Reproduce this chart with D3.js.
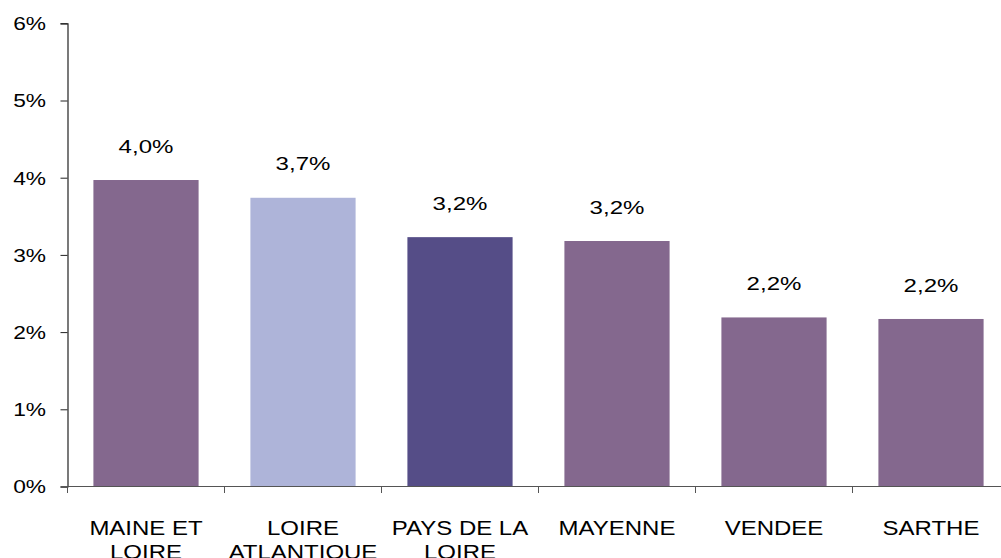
<!DOCTYPE html>
<html>
<head>
<meta charset="utf-8">
<script src="https://cdn.jsdelivr.net/npm/d3@7"></script>
<style>
  html, body { margin: 0; padding: 0; background: #fff; }
  svg { display: block; }
  text { font-family: "Liberation Sans", Arial, sans-serif; fill: #000; }
</style>
</head>
<body>
<svg id="chart" width="1001" height="558"></svg>
<script>
const categories = ["MAINE ET LOIRE", "LOIRE ATLANTIQUE", "PAYS DE LA LOIRE", "MAYENNE", "VENDEE", "SARTHE"];
const values = [0.0397, 0.0374, 0.0323, 0.0318, 0.0219, 0.0217];
const barColors = ["#84688e", "#aeb4d9", "#554d87", "#84688e", "#84688e", "#84688e"];
const yTicks = [0, 0.01, 0.02, 0.03, 0.04, 0.05, 0.06];

const svg = d3.select("#chart");
const x0 = 67.5, x1 = 1009.5, yBottom = 486.5, yTop = 23.3;

const x = d3.scaleBand().domain(categories).range([x0, x1]).paddingInner(0.33).paddingOuter(0.165);
const y = d3.scaleLinear().domain([0, 0.06]).range([yBottom, yTop]);

const fr = d3.formatLocale({decimal: ",", thousands: " ", grouping: [3], currency: ["", "€"]});
const fmtTick = fr.format(".0%");
const fmtLabel = fr.format(".1%");

// bars
svg.append("g").selectAll("rect").data(values).join("rect")
  .attr("x", (d, i) => x(categories[i]))
  .attr("width", x.bandwidth())
  .attr("y", d => y(d))
  .attr("height", d => y(0) - y(d))
  .attr("fill", (d, i) => barColors[i]);

// y axis
const sxTick = 1.3;
const yAxis = svg.append("g").attr("transform", `translate(${x0},0)`)
  .call(d3.axisLeft(y).tickValues(yTicks).tickFormat(fmtTick).tickSizeOuter(0).tickSize(7));
yAxis.select(".domain").attr("stroke", "#222").attr("stroke-width", 1.2);
yAxis.selectAll(".tick line").attr("stroke", "#222");
yAxis.selectAll(".tick text")
  .attr("font-size", "17.5px")
  .attr("font-family", "Liberation Sans, Arial, sans-serif")
  .attr("fill", "#000")
  .attr("x", -21.5 / sxTick)
  .attr("dy", "0.36em")
  .attr("transform", `scale(${sxTick},1)`);

// x axis
const bandStep = x.step();
const xTickPos = d3.range(categories.length + 1).map(i => x0 + i * bandStep);
const xAxisG = svg.append("g");
xAxisG.append("line")
  .attr("x1", x0).attr("x2", x1).attr("y1", yBottom).attr("y2", yBottom)
  .attr("stroke", "#555").attr("stroke-width", 1.2);
xAxisG.selectAll("line.tk").data(xTickPos).join("line").attr("class", "tk")
  .attr("x1", d => d).attr("x2", d => d)
  .attr("y1", yBottom).attr("y2", yBottom + 6.5)
  .attr("stroke", "#555");

// category labels with wrapping
const sxCat = 1.23, catSize = 19.5, maxW = 157;
const catG = svg.append("g");
categories.forEach((c, i) => {
  const cx = x(c) + x.bandwidth() / 2;
  const t = catG.append("text")
    .attr("font-size", catSize + "px")
    .attr("text-anchor", "middle")
    .attr("transform", `translate(${cx},534.5) scale(${sxCat},1)`);
  const words = c.split(" ");
  let lines = [], cur = [];
  const probe = t.append("tspan");
  words.forEach(w => {
    const test = cur.concat([w]).join(" ");
    probe.text(test);
    if (cur.length && probe.node().getComputedTextLength() * sxCat > maxW) {
      lines.push(cur.join(" "));
      cur = [w];
    } else {
      cur.push(w);
    }
  });
  lines.push(cur.join(" "));
  probe.remove();
  lines.forEach((ln, j) => {
    t.append("tspan").attr("x", 0).attr("y", j * 24.5).text(ln);
  });
});

// data labels
const sxLab = 1.3;
svg.append("g").selectAll("text").data(values).join("text")
  .attr("font-size", "18.5px")
  .attr("text-anchor", "middle")
  .attr("transform", (d, i) => `translate(${x(categories[i]) + x.bandwidth() / 2},${y(d) - 34 + 6.6}) scale(${sxLab},1)`)
  .text(d => fmtLabel(d));
</script>
</body>
</html>
